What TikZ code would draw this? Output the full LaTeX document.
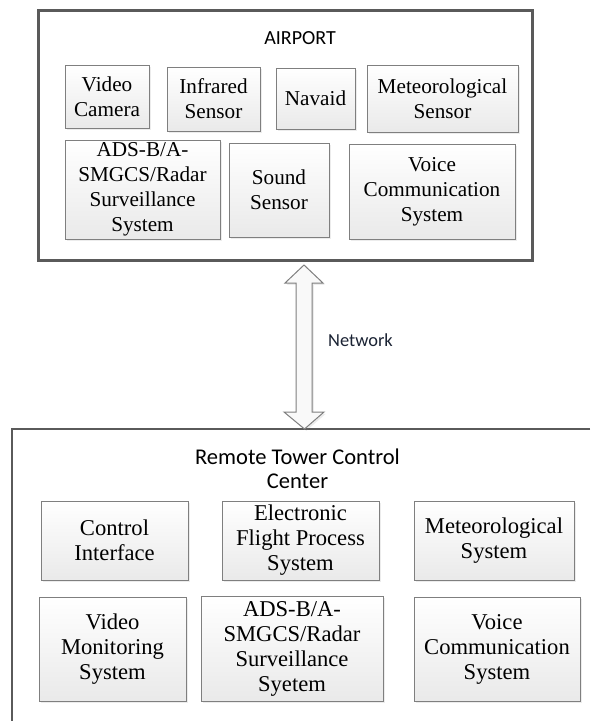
\documentclass[tikz,border=0pt]{standalone}
\usepackage{fontspec}
\setmainfont{Liberation Serif}
\newfontfamily\calib{Carlito}
\usetikzlibrary{shadows,calc}
\definecolor{framegray}{HTML}{5A5A5A}
\definecolor{boxgray}{HTML}{7F7F7F}
\definecolor{nettext}{HTML}{1A2233}
\begin{document}
\begin{tikzpicture}[x=1pt,y=-1pt,
  sysbox/.style={draw=boxgray, line width=1pt, top color=white, bottom color=gray!17,
    drop shadow={shadow xshift=1.8pt, shadow yshift=-1.8pt, opacity=0.15},
    align=center, inner sep=0pt},
  topbox/.style={sysbox, font=\fontsize{21.2}{25}\selectfont},
  botbox/.style={sysbox, font=\fontsize{22.6}{25}\selectfont},
  frame/.style={draw=framegray, line width=2.6pt},
  netarrow/.style={draw=boxgray, line width=1pt, fill=gray!5,
    drop shadow={shadow xshift=1.8pt, shadow yshift=-1.8pt, opacity=0.15}}]
\useasboundingbox (0,0) rectangle (590,721);

% Airport frame
\node[frame, minimum width=494pt, minimum height=250pt, anchor=north west, inner sep=0pt] (airport) at (37,9) {};
\node[font=\calib\fontsize{20}{24}\selectfont] (airporttitle) at (300,38) {AIRPORT};

\node[topbox, minimum width=84pt, minimum height=63pt] (vc) at (107,96.5) {Video\\Camera};
\node[topbox, minimum width=93pt, minimum height=64pt] (ir) at (213.5,99) {Infrared\\Sensor};
\node[topbox, minimum width=79pt, minimum height=61pt] (nav) at (315.5,98.5) {Navaid};
\node[topbox, minimum width=151pt, minimum height=67pt] (met) at (442.5,98.5) {Meteorological\\Sensor};
\node[topbox, minimum width=155pt, minimum height=99pt] (ads) at (142.5,189.5) {ADS-B/A-\\SMGCS/Radar\\Surveillance\\System};
\node[topbox, minimum width=100pt, minimum height=94pt] (snd) at (279,190) {Sound\\Sensor};
\node[topbox, minimum width=166pt, minimum height=95pt] (vcs) at (432,191.5) {Voice\\Communication\\System};

% Remote tower control center frame (open to right and bottom)
\coordinate (rtcorner) at (12,429);
\draw[frame] (590,429) -- (rtcorner) -- (12,721);
\node[font=\calib\fontsize{22.5}{24}\selectfont, align=center] (rtcc) at (297.5,469) {Remote Tower Control\\Center};

\node[botbox, minimum width=147pt, minimum height=79pt] (ci) at (114.5,540.5) {Control\\Interface};
\node[botbox, minimum width=157pt, minimum height=79pt] (efp) at (300.5,540.5) {Electronic\\Flight Process\\System};
\node[botbox, minimum width=160pt, minimum height=79pt] (ms) at (494,540.5) {Meteorological\\System};
\node[botbox, minimum width=147pt, minimum height=104pt] (vm) at (112.5,649) {Video\\Monitoring\\System};
\node[botbox, minimum width=182pt, minimum height=105pt] (ads2) at (292,648.5) {ADS-B/A-\\SMGCS/Radar\\Surveillance\\Syetem};
\node[botbox, minimum width=166pt, minimum height=104pt] (vcs2) at (497,649) {Voice\\Communication\\System};

% Network double arrow
\coordinate (tipT) at (304,265);
\coordinate (tipB) at (304.5,429);
\path[netarrow] (tipT) -- ++(19,18) -- ++(-11,0) -- ++(0,129) -- ++(12,0) -- (tipB)
  -- ++(-20.5,-17) -- ++(12,0) -- ++(0,-129) -- ++(-11,0) -- cycle;
\node[font=\calib\fontsize{18.4}{22}\selectfont, text=nettext, anchor=west, inner sep=0pt] (net) at (328,340) {Network};
\end{tikzpicture}
\end{document}
